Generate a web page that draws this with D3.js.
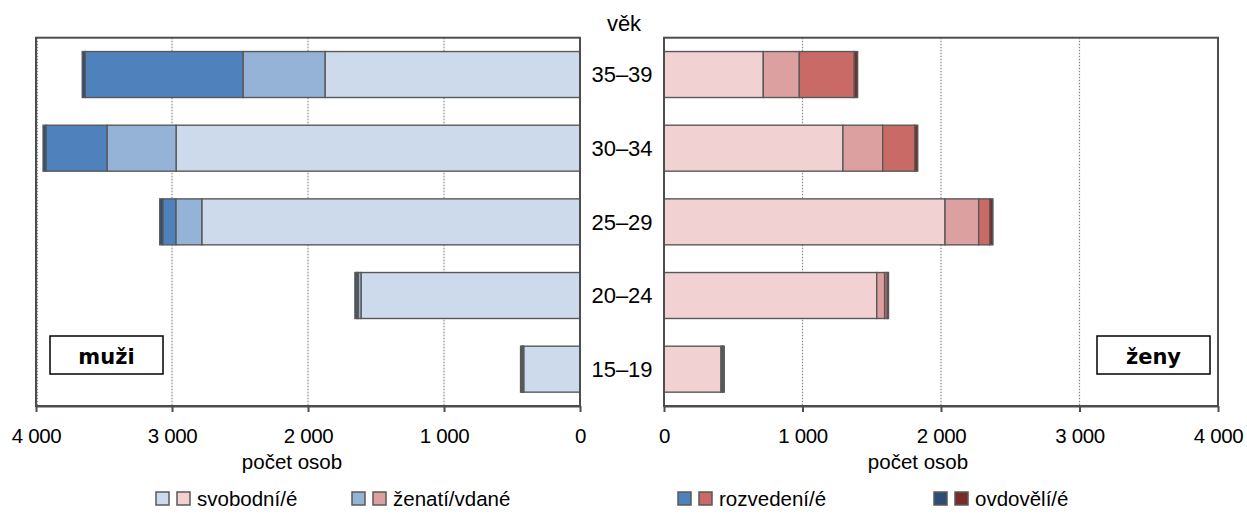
<!DOCTYPE html>
<html>
<head>
<meta charset="utf-8">
<script src="https://cdn.jsdelivr.net/npm/d3@7"></script>
<style>
  body { margin: 0; background: #fff; }
  svg { display: block; }
</style>
</head>
<body>
<svg id="chart" width="1247" height="514"></svg>
<script>
// age groups, top to bottom
var ages = ["35–39", "30–34", "25–29", "20–24", "15–19"];
var statusLabels = ["svobodní/é", "ženatí/vdané", "rozvedení/é", "ovdovělí/é"];
var statusKeys = ["single", "married", "divorced", "widowed"];

// men (muži)
var menSingle   = [1875, 2970, 2781, 1610, 414];
var menMarried  = [603, 508, 191, 20, 10];
var menDivorced = [1160, 448, 96, 10, 3];
var menWidowed  = [22, 22, 22, 15, 10];

// women (ženy)
var womenSingle   = [717, 1292, 2029, 1536, 412];
var womenMarried  = [260, 287, 243, 57, 10];
var womenDivorced = [397, 231, 80, 20, 3];
var womenWidowed  = [24, 22, 23, 8, 10];

var xTicks = [0, 1000, 2000, 3000, 4000];

var menColors   = ["#cddaeb", "#95b3d7", "#4f81bd", "#2c4d75"];
var womenColors = ["#f1d1d2", "#dda0a0", "#c96a67", "#772c2a"];

function rows(single, married, divorced, widowed) {
  return ages.map(function (a, i) {
    return { age: a, single: single[i], married: married[i], divorced: divorced[i], widowed: widowed[i] };
  });
}

var menData = rows(menSingle, menMarried, menDivorced, menWidowed);
var womenData = rows(womenSingle, womenMarried, womenDivorced, womenWidowed);

var plotTop = 37.7, plotBottom = 406;
var svg = d3.select("#chart");

var y = d3.scaleBand()
  .domain(ages)
  .range([plotTop, plotBottom])
  .paddingInner(0.376)
  .paddingOuter(0.188);

var xMen = d3.scaleLinear().domain([0, 4000]).range([580, 36]);
var xWomen = d3.scaleLinear().domain([0, 4000]).range([664, 1218]);

var fmt = function (d) { return d === 0 ? "0" : d3.format(",")(d).replace(",", " "); };
var font = "Liberation Sans, Arial, sans-serif";

var stack = d3.stack().keys(statusKeys);

function drawPanel(x, data, colors, men) {
  var g = svg.append("g");
  var x0 = Math.min(x.range()[0], x.range()[1]);
  var x1 = Math.max(x.range()[0], x.range()[1]);

  // dotted grid
  g.selectAll(".grid")
    .data([1000, 2000, 3000])
    .join("line")
      .attr("x1", d => x(d)).attr("x2", d => x(d))
      .attr("y1", plotTop).attr("y2", plotBottom)
      .attr("stroke", "#8a8a8a")
      .attr("stroke-width", 1.2)
      .attr("stroke-dasharray", "1.5,1.5");
  if (men) {
    g.append("line")
      .attr("x1", x(4000) + 1.5).attr("x2", x(4000) + 1.5)
      .attr("y1", plotTop).attr("y2", plotBottom)
      .attr("stroke", "#8a8a8a").attr("stroke-width", 1.2)
      .attr("stroke-dasharray", "1.5,1.5");
  }

  var series = stack(data);
  g.selectAll(".layer")
    .data(series)
    .join("g")
      .attr("fill", (d, i) => colors[i])
    .selectAll("rect")
    .data(d => d)
    .join("rect")
      .attr("x", d => Math.min(x(d[0]), x(d[1])))
      .attr("width", d => Math.abs(x(d[1]) - x(d[0])))
      .attr("y", d => y(d.data.age))
      .attr("height", y.bandwidth())
      .attr("stroke", "#595959")
      .attr("stroke-width", 1.4);

  // frame
  g.append("rect")
    .attr("x", x0).attr("y", plotTop)
    .attr("width", x1 - x0).attr("height", plotBottom - plotTop)
    .attr("fill", "none")
    .attr("stroke", "#4d4d4d")
    .attr("stroke-width", 2);

  var axis = g.append("g")
    .attr("transform", "translate(0," + plotBottom + ")")
    .call(d3.axisBottom(x).tickValues(xTicks).tickSize(6).tickSizeOuter(0).tickPadding(16).tickFormat(fmt));
  axis.select(".domain").attr("stroke", "#4d4d4d").attr("stroke-width", 2);
  axis.selectAll(".tick line").attr("stroke", "#4d4d4d").attr("stroke-width", 2);
  axis.selectAll(".tick text")
    .attr("fill", "#000")
    .style("font-family", font)
    .style("font-size", "20.5px")
    .style("letter-spacing", "-0.4px");

  g.append("text")
    .attr("x", men ? 292 : 918)
    .attr("y", 469)
    .attr("text-anchor", "middle")
    .style("font-family", font)
    .style("font-size", "20.5px")
    .text("počet osob");

  // sex label box
  var bx = men ? 50 : 1097, bw = 113;
  g.append("rect")
    .attr("x", bx).attr("y", 336)
    .attr("width", bw).attr("height", 38)
    .attr("fill", "#fff")
    .attr("stroke", "#000")
    .attr("stroke-width", 1.5);
  g.append("text")
    .attr("x", bx + bw / 2)
    .attr("y", 364)
    .attr("text-anchor", "middle")
    .style("font-family", "DejaVu Sans, Verdana, sans-serif")
    .style("font-weight", "bold")
    .style("font-size", "21px")
    .text(men ? "muži" : "ženy");
}

drawPanel(xMen, menData, menColors, true);
drawPanel(xWomen, womenData, womenColors, false);

// age labels in the middle
svg.append("g")
  .selectAll("text")
  .data(ages)
  .join("text")
    .attr("x", 622)
    .attr("y", d => y(d) + y.bandwidth() / 2)
    .attr("dy", "0.36em")
    .attr("text-anchor", "middle")
    .style("font-family", font)
    .style("font-size", "22px")
    .text(d => d);

svg.append("text")
  .attr("x", 624).attr("y", 31)
  .attr("text-anchor", "middle")
  .style("font-family", font)
  .style("font-size", "22px")
  .text("věk");

// legend
var legendX = [156, 352, 678, 934];
var leg = svg.append("g").selectAll("g")
  .data(statusLabels)
  .join("g")
    .attr("transform", (d, i) => "translate(" + legendX[i] + ",492)");
leg.append("rect")
  .attr("width", 13).attr("height", 13)
  .attr("fill", (d, i) => menColors[i])
  .attr("stroke", "#595959").attr("stroke-width", 1.5);
leg.append("rect")
  .attr("x", 21)
  .attr("width", 13).attr("height", 13)
  .attr("fill", (d, i) => womenColors[i])
  .attr("stroke", "#595959").attr("stroke-width", 1.5);
leg.append("text")
  .attr("x", 41)
  .attr("y", 14)
  .style("font-family", font)
  .style("font-size", "20.5px")
  .text(d => d);
</script>
</body>
</html>
